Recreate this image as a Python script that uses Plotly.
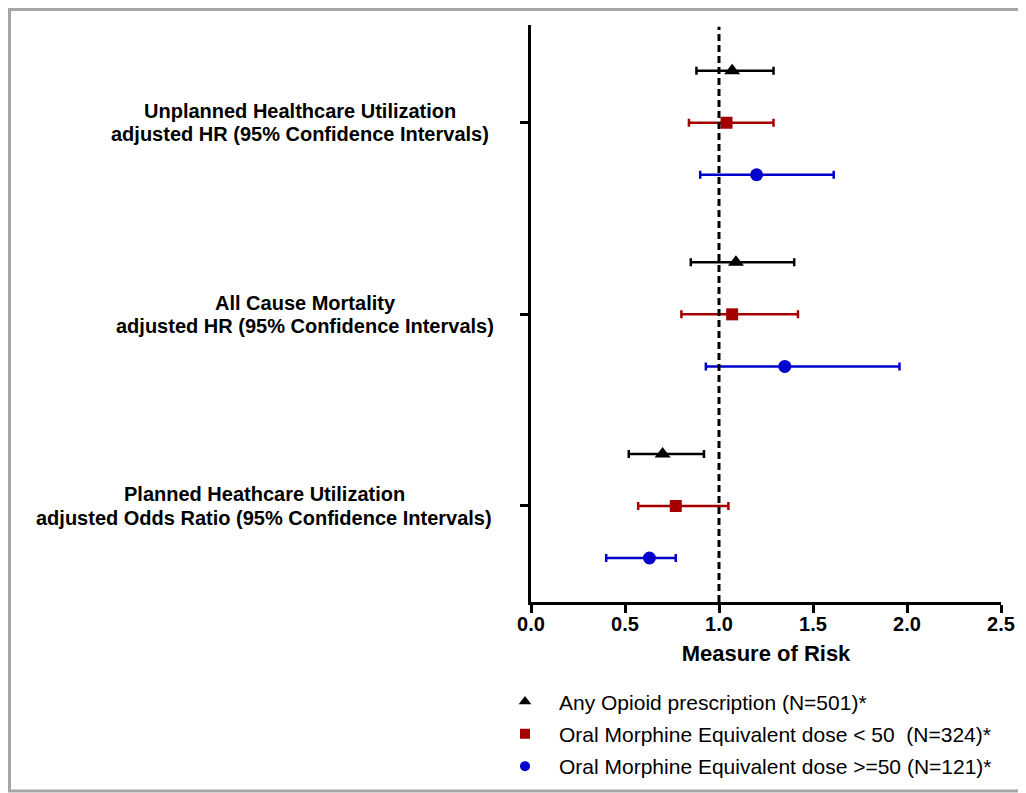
import plotly.graph_objects as go

# ---- data ----
outcomes_line1 = ["Unplanned Healthcare Utilization", "All Cause Mortality", "Planned Heathcare Utilization"]
outcomes_line2 = ["adjusted HR (95% Confidence Intervals)", "adjusted HR (95% Confidence Intervals)",
                  "adjusted Odds Ratio (95% Confidence Intervals)"]
series_names = ["Any Opioid prescription (N=501)*",
                "Oral Morphine Equivalent dose < 50  (N=324)*",
                "Oral Morphine Equivalent dose >=50 (N=121)*"]
any_opioid_est = [1.07, 1.09, 0.70]
any_opioid_lo = [0.88, 0.85, 0.52]
any_opioid_hi = [1.29, 1.40, 0.92]
ome_lt50_est = [1.04, 1.07, 0.77]
ome_lt50_lo = [0.84, 0.80, 0.57]
ome_lt50_hi = [1.29, 1.42, 1.05]
ome_ge50_est = [1.20, 1.35, 0.63]
ome_ge50_lo = [0.90, 0.93, 0.40]
ome_ge50_hi = [1.61, 1.96, 0.77]
x_ticks = [0.0, 0.5, 1.0, 1.5, 2.0, 2.5]
x_tick_labels = ["0.0", "0.5", "1.0", "1.5", "2.0", "2.5"]
reference_value = 1.0

# ---- style ----
FONT = "Arial, Liberation Sans, Helvetica, sans-serif"
colors = ["#000000", "#a50000", "#0000cc"]
symbols = ["triangle-up", "square", "circle"]
sizes = [14, 12, 13]
offsets = [-0.2715, 0.0, 0.2715]
label_centers_px = [300, 305, 264]

BODY = 8  # browser default body margin
W, H = 1026 - BODY, 793 - BODY
ML, MT = 531 - BODY, 25 - BODY
PW, PH = 470, 576.7
MR = W - ML - PW
MB = H - MT - PH


def px_to_paper_x(px):
    return (px - BODY - ML) / PW


def px_to_paper_y(py):
    return 1 - (py - BODY - MT) / PH


fig = go.Figure()

est = [any_opioid_est, ome_lt50_est, ome_ge50_est]
lo = [any_opioid_lo, ome_lt50_lo, ome_ge50_lo]
hi = [any_opioid_hi, ome_lt50_hi, ome_ge50_hi]
groups = list(range(len(outcomes_line1)))

for s in range(3):
    ys = [g + offsets[s] for g in groups]
    fig.add_trace(go.Scatter(
        x=est[s], y=ys, mode="markers", showlegend=False,
        marker=dict(symbol=symbols[s], size=sizes[s], color=colors[s]),
        error_x=dict(type="data", symmetric=False,
                     array=[h - e for h, e in zip(hi[s], est[s])],
                     arrayminus=[e - l for e, l in zip(est[s], lo[s])],
                     color=colors[s], thickness=2.5, width=4),
    ))

# legend-only entries
for s in range(3):
    fig.add_trace(go.Scatter(
        x=[None], y=[None], mode="markers", name=series_names[s],
        legendgroup=f"g{s}",
        marker=dict(symbol=symbols[s], size=10 if s else 11, color=colors[s]),
    ))

# reference dashed line
fig.add_shape(type="line", xref="x", yref="paper", x0=reference_value, x1=reference_value,
              y0=0, y1=0.997, line=dict(color="black", width=3, dash="7px,4px"), layer="above")

# frame
fig.add_shape(type="rect", xref="paper", yref="paper",
              x0=px_to_paper_x(9.5), x1=px_to_paper_x(1060),
              y0=px_to_paper_y(790.5), y1=px_to_paper_y(9.5),
              line=dict(color="#a6a6a6", width=3), fillcolor="rgba(0,0,0,0)", layer="below")

# y labels
for g in groups:
    fig.add_annotation(x=px_to_paper_x(label_centers_px[g]), xref="paper", y=g, yref="y",
                       text=f"<b>{outcomes_line1[g]}</b>", showarrow=False,
                       xanchor="center", yanchor="middle", yshift=11.7,
                       font=dict(family=FONT, size=20, color="black"))
    fig.add_annotation(x=px_to_paper_x(label_centers_px[g]), xref="paper", y=g, yref="y",
                       text=f"<b>{outcomes_line2[g]}</b>", showarrow=False,
                       xanchor="center", yanchor="middle", yshift=-11.7,
                       font=dict(family=FONT, size=20, color="black"))

fig.update_xaxes(range=[0, 2.5], tickvals=x_ticks, ticktext=[f"<b>{t}</b>" for t in x_tick_labels],
                 showline=True, linecolor="black", linewidth=2.5, mirror=False,
                 ticks="outside", ticklen=8, tickwidth=2.5, tickcolor="black",
                 ticklabelstandoff=-6,
                 showgrid=False, zeroline=False, automargin=False,
                 tickfont=dict(family=FONT, size=20, color="black"),
                 title=dict(text="<b>Measure of Risk</b>", standoff=12,
                            font=dict(family=FONT, size=22, color="black")))
fig.update_yaxes(range=[2.501, -0.51], tickvals=groups, showticklabels=False,
                 showline=True, linecolor="black", linewidth=2.5, automargin=False,
                 ticks="outside", ticklen=8, tickwidth=2.5, tickcolor="black",
                 showgrid=False, zeroline=False)

fig.update_layout(
    width=W, height=H,
    margin=dict(l=ML, r=MR, t=MT, b=MB, autoexpand=False),
    paper_bgcolor="white", plot_bgcolor="white",
    font=dict(family=FONT, color="black"),
    showlegend=True,
    legend=dict(x=px_to_paper_x(491), xanchor="left", y=px_to_paper_y(786), yanchor="bottom",
                itemwidth=58, traceorder="grouped", tracegroupgap=2,
                font=dict(family=FONT, size=21, color="black"),
                bgcolor="rgba(0,0,0,0)"),
)

fig.write_html("out.html")
